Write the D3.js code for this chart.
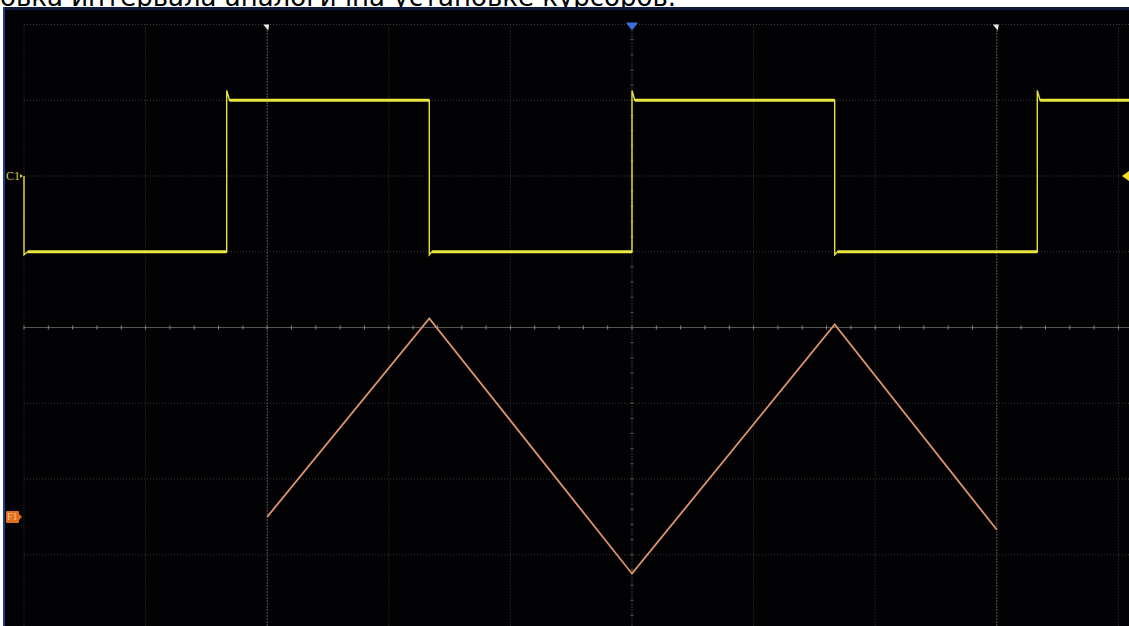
<!DOCTYPE html>
<html><head><meta charset="utf-8">
<script src="https://cdn.jsdelivr.net/npm/d3@7"></script>
<style>html,body{margin:0;padding:0;background:#fff;overflow:hidden}</style>
</head><body>
<svg id="c" width="1129" height="626"></svg>
<script>
// ---- data ----
const headerText = "овка интервала аналогична установке курсоров.";
const timeDomain = [-500, 500];            // µs, 100 µs/div
const divDomain = [-4, 4];                 // vertical divisions
const gridTimes = [-500,-400,-300,-200,-100,0,100,200,300,400,500];
const gridDivs = [-4,-3,-2,-1,0,1,2,3,4];
const c1Offset = 2;                        // div
const c1Times = [-500,-500,-497,-333.3,-333.3,-331,-166.7,-166.7,-164.5,0,0,2.3,166.7,166.7,169,333.3,333.3,335.6,500];
const c1Volts = [0,-1.04,-1,-1,1.13,1,1,-1.04,-1,-1,1.13,1,1,-1.04,-1,-1,1.13,1,1];
const f1Offset = -2.5;                     // div
const f1Times = [-300,-166.7,0,166.7,300];
const f1Values = [0,2.62,-0.75,2.54,-0.17];
const cursorTimes = [-300, 300];
const triggerTime = 0;
const triggerLevel = 0;                    // V on C1
const labels = ["C1","F1"];

// ---- layout ----
const svg = d3.select("#c");
const x = d3.scaleLinear().domain(timeDomain).range([24, 1240]);
const y = d3.scaleLinear().domain(divDomain).range([630.5, 24.5]);

// header text (cropped, as in the reference)
svg.append("text").attr("x", 0).attr("y", 6)
  .attr("font-family", "DejaVu Sans").attr("font-size", 26).attr("fill", "#000")
  .text(headerText);

// screen frame
svg.append("rect").attr("x", 3).attr("y", 7).attr("width", 1126).attr("height", 619).attr("fill", "#1d3b8c");
svg.append("rect").attr("x", 5).attr("y", 7).attr("width", 1124).attr("height", 3).attr("fill", "#0e1a38");
svg.append("rect").attr("x", 5).attr("y", 10).attr("width", 1124).attr("height", 616).attr("fill", "#020204");

const scr = svg.append("g");

// grid
const gridColor = "#3a3a3a";
scr.selectAll("line.gv").data(gridTimes).join("line")
  .attr("x1", d => x(d)).attr("x2", d => x(d)).attr("y1", y(4)).attr("y2", y(-4))
  .attr("stroke", d => d === 0 ? "#6a6a6a" : gridColor).attr("stroke-width", 1)
  .attr("stroke-dasharray", "1,2");
scr.selectAll("line.gh").data(gridDivs).join("line")
  .attr("x1", x(-500)).attr("x2", x(500)).attr("y1", d => y(d)).attr("y2", d => y(d))
  .attr("stroke", d => d === 0 ? "#555" : gridColor).attr("stroke-width", 1)
  .attr("stroke-dasharray", d => d === 0 ? null : "1,2");

// minor ticks on center lines
const minorT = d3.range(-500, 500.1, 20);
scr.selectAll("line.mt").data(minorT).join("line")
  .attr("x1", d => x(d)).attr("x2", d => x(d)).attr("y1", y(0) - 2).attr("y2", y(0) + 2)
  .attr("stroke", "#888").attr("stroke-width", 1);
const minorD = d3.range(-4, 4.01, 0.2);
scr.selectAll("line.md").data(minorD).join("line")
  .attr("x1", x(0) - 1.5).attr("x2", x(0) + 1.5).attr("y1", d => y(d)).attr("y2", d => y(d))
  .attr("stroke", "#5a5a5a").attr("stroke-width", 1);

// cursors
scr.selectAll("line.cur").data(cursorTimes).join("line")
  .attr("x1", d => x(d)).attr("x2", d => x(d)).attr("y1", y(4)).attr("y2", 626)
  .attr("stroke", "#8a8a8a").attr("stroke-width", 1).attr("stroke-dasharray", "1,2");
scr.selectAll("path.curm").data(cursorTimes).join("path")
  .attr("d", d => { const cx = x(d); return `M${cx-4},${y(4)}L${cx+2},${y(4)}L${cx+1},${y(4)+6}Z`; })
  .attr("fill", "#e8e8e8");

// trigger marker
scr.append("path")
  .attr("d", `M${x(triggerTime)-6},${y(4)-2}L${x(triggerTime)+6},${y(4)-2}L${x(triggerTime)},${y(4)+6}Z`)
  .attr("fill", "#3d6fdc");
scr.append("path")
  .attr("d", `M1122,${y(triggerLevel + c1Offset)}L1129,${y(triggerLevel + c1Offset)-5}L1129,${y(triggerLevel + c1Offset)+5}Z`)
  .attr("fill", "#f0e020");

// C1 trace
const c1 = c1Times.map((t, i) => [t, c1Volts[i] + c1Offset]);
const line = d3.line().x(d => x(d[0])).y(d => y(d[1]));
scr.append("path").attr("d", line(c1)).attr("fill", "none")
  .attr("stroke", "#e6e23a").attr("stroke-width", 1.4);
const flats = [];
for (let i = 1; i < c1.length; i++) if (c1[i][1] === c1[i-1][1] && c1[i][0] !== c1[i-1][0]) flats.push([c1[i-1], c1[i]]);
scr.selectAll("path.flat").data(flats).join("path")
  .attr("d", d => line(d)).attr("fill", "none")
  .attr("stroke", "#ece63e").attr("stroke-width", 3);

// F1 trace
const f1 = f1Times.map((t, i) => [t, f1Values[i] + f1Offset]);
scr.append("path").attr("d", line(f1)).attr("fill", "none")
  .attr("stroke", "#dc946c").attr("stroke-width", 1.8);

// channel labels
const c1y = y(c1Offset);
scr.append("text").attr("x", 6).attr("y", c1y + 4).attr("font-family", "Liberation Serif")
  .attr("font-size", 12).attr("fill", "#d8cf3c").text(labels[0]);
scr.append("path").attr("d", `M20,${c1y-2}L23,${c1y}L20,${c1y+2}Z`).attr("fill", "#d8cf3c");
const f1y = y(f1Offset);
scr.append("rect").attr("x", 6).attr("y", f1y - 6).attr("width", 13).attr("height", 12)
  .attr("rx", 1).attr("fill", "#e0701e");
scr.append("path").attr("d", `M19,${f1y-3}L22,${f1y}L19,${f1y+3}Z`).attr("fill", "#e0701e");
scr.append("text").attr("x", 7).attr("y", f1y + 3.5).attr("font-family", "Liberation Serif")
  .attr("font-size", 10).attr("fill", "#ffc08a").text(labels[1]);
</script>
</body></html>
